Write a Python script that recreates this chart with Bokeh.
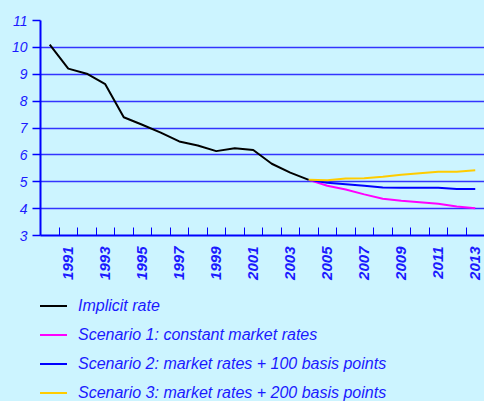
import math
from bokeh.plotting import figure
from bokeh.layouts import column
from bokeh.models import (FixedTicker, Range1d, Legend, LegendItem)
from bokeh.embed import file_html
from bokeh.resources import INLINE

# ---- data ----
years_hist = [1990, 1991, 1992, 1993, 1994, 1995, 1996, 1997, 1998, 1999,
              2000, 2001, 2002, 2003, 2004]
implicit_rate = [10.10, 9.21, 9.02, 8.63, 7.40, 7.12, 6.83, 6.50, 6.35, 6.14,
                 6.25, 6.18, 5.67, 5.34, 5.07]

years_scen = [2004, 2005, 2006, 2007, 2008, 2009, 2010, 2011, 2012, 2013]
scenario1 = [5.07, 4.85, 4.71, 4.53, 4.37, 4.29, 4.24, 4.18, 4.08, 4.01]
scenario2 = [5.07, 4.96, 4.91, 4.85, 4.79, 4.78, 4.78, 4.78, 4.73, 4.73]
scenario3 = [5.07, 5.06, 5.12, 5.13, 5.19, 5.26, 5.32, 5.37, 5.37, 5.43]

series_labels = ["Implicit rate",
                 "Scenario 1: constant market rates",
                 "Scenario 2: market rates + 100 basis points",
                 "Scenario 3: market rates + 200 basis points"]
series_colors = ["#000000", "#FF00FF", "#0000FF", "#FFCC00"]

label_years = [1991, 1993, 1995, 1997, 1999, 2001, 2003, 2005, 2007, 2009, 2011, 2013]
tick_marks = [y + 0.5 for y in range(1990, 2013)]
y_ticks = [3, 4, 5, 6, 7, 8, 9, 10, 11]

BG = "#CCF4FF"
BLUE = "#1A1AFF"

fig = figure(width=484, height=292,
             x_range=Range1d(1989.5, 2013.5), y_range=Range1d(3, 11),
             output_backend="svg", toolbar_location=None,
             min_border_left=40, min_border_right=0, min_border_top=20,
             min_border_bottom=57)
fig.background_fill_color = BG
fig.border_fill_color = BG
fig.outline_line_color = None

# grid
fig.xgrid.grid_line_color = None
fig.ygrid.ticker = FixedTicker(ticks=y_ticks)
fig.ygrid.grid_line_color = "#3333FF"
fig.ygrid.grid_line_width = 1.5

# y axis
ya = fig.yaxis[0]
ya.ticker = FixedTicker(ticks=y_ticks)
ya.axis_line_color = "#0000FF"
ya.axis_line_width = 2
ya.major_tick_line_color = "#0000FF"
ya.major_tick_line_width = 1.5
ya.major_tick_out = 8
ya.major_tick_in = 0
ya.minor_tick_line_color = None
ya.major_label_standoff = 5
ya.major_label_text_font = "Liberation Sans"
ya.major_label_text_font_style = "italic"
ya.major_label_text_font_size = "14px"
ya.major_label_text_color = BLUE

# x axis
xa = fig.xaxis[0]
xa.ticker = FixedTicker(ticks=label_years, minor_ticks=tick_marks)
xa.axis_line_color = "#0000FF"
xa.axis_line_width = 2
xa.major_tick_line_color = None
xa.major_tick_in = 0
xa.major_tick_out = 0
xa.minor_tick_line_color = "#0000FF"
xa.minor_tick_line_width = 1
xa.minor_tick_in = 8
xa.minor_tick_out = 0
xa.major_label_orientation = math.pi / 2
xa.major_label_standoff = 11
xa.major_label_text_font = "Liberation Sans"
xa.major_label_text_font_style = "bold italic"
xa.major_label_text_font_size = "15px"
xa.major_label_text_color = BLUE

# lines
fig.line(years_hist, implicit_rate, line_color=series_colors[0], line_width=2)
fig.line(years_scen, scenario1, line_color=series_colors[1], line_width=2)
fig.line(years_scen, scenario2, line_color=series_colors[2], line_width=2)
fig.line(years_scen, scenario3, line_color=series_colors[3], line_width=2)

# legend strip below the chart (same series drawn outside its visible range,
# only so that the legend shows their line styles)
leg = figure(width=484, height=109, x_range=Range1d(0, 1), y_range=Range1d(0, 1),
             output_backend="svg", toolbar_location=None,
             x_axis_type=None, y_axis_type=None,
             min_border_left=40, min_border_right=0, min_border_top=0,
             min_border_bottom=0)
leg.background_fill_color = BG
leg.border_fill_color = BG
leg.outline_line_color = None
leg.xgrid.visible = False
leg.ygrid.visible = False

all_x = [years_hist, years_scen, years_scen, years_scen]
all_y = [implicit_rate, scenario1, scenario2, scenario3]
items = []
for lab, col, xs, ys in zip(series_labels, series_colors, all_x, all_y):
    r = leg.line(xs, ys, line_color=col, line_width=2)
    items.append(LegendItem(label=lab, renderers=[r]))

legend = Legend(items=items, location=(-1, -1), orientation="vertical")
legend.margin = 0
legend.padding = 0
legend.background_fill_alpha = 0
legend.border_line_color = None
legend.glyph_width = 28
legend.glyph_height = 19
legend.label_height = 19
legend.spacing = 10
legend.label_standoff = 11
legend.label_text_font = "Liberation Sans"
legend.label_text_font_style = "italic"
legend.label_text_font_size = "16px"
legend.label_text_color = BLUE
leg.add_layout(legend)

p = column(fig, leg, spacing=0, styles={"background-color": BG})

open("out.html", "w").write(file_html(p, INLINE))
